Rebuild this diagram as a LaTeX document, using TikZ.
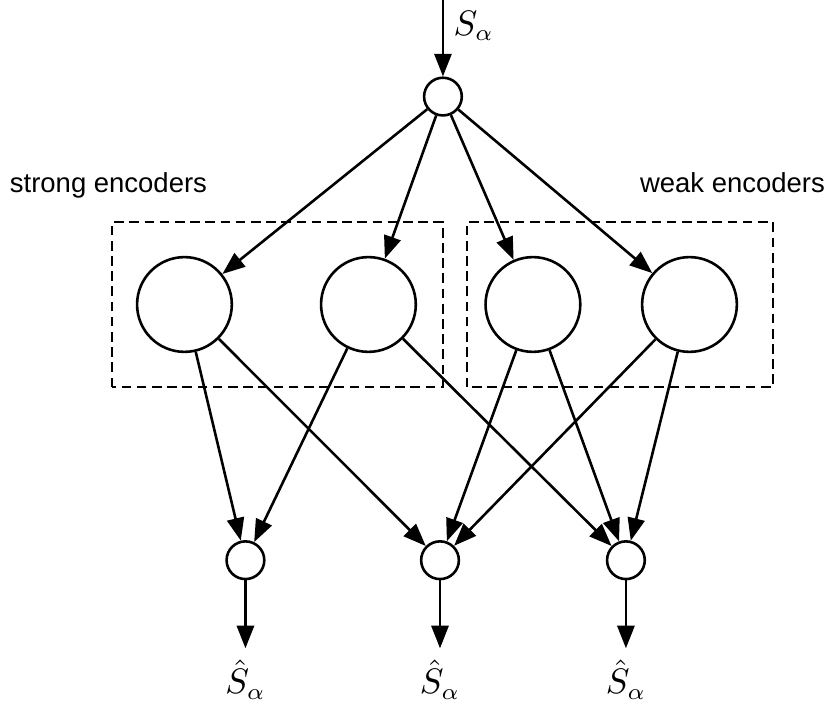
\documentclass[tikz,border=0pt]{standalone}
\usepackage{amsmath}
\usepackage{fontspec}
\newfontfamily\grpfont{Liberation Sans}
\usetikzlibrary{arrows.meta}

\begin{document}
\begin{tikzpicture}[>={Triangle[length=7pt,width=5.3pt]}, line width=0.8pt,
unit/.style={draw, circle, minimum size=0.41cm, inner sep=0pt},
enc/.style={draw, circle, minimum size=1.03cm, inner sep=0pt},
grp/.style={draw, line width=0.7pt, dash pattern=on 3pt off 1.7pt},
grplbl/.style={font=\grpfont\fontsize{8.5}{10}\selectfont, anchor=base},
sig/.style={font=\fontsize{10.5}{12}\selectfont}]
\useasboundingbox (0,0) rectangle (8.99,7.71);
% input
\coordinate (in) at (4.815,7.71);
\node[unit] (top) at (4.815,6.66) {};
\node[sig] (sin) at (5.15,7.43) {$S_\alpha$};
\draw[->] (in) -- (top);
% encoders
\node[enc] (e1) at (2.005,4.40) {};
\node[enc] (e2) at (4.005,4.40) {};
\node[enc] (e3) at (5.793,4.40) {};
\node[enc] (e4) at (7.495,4.40) {};
\draw[grp] (1.217,3.50) rectangle (4.815,5.293);
\draw[grp] (5.076,3.50) rectangle (8.402,5.293);
\node[grplbl] (strong) at (1.179,5.62) {strong encoders};
\node[grplbl] (weak) at (7.962,5.62) {weak encoders};
\draw[->] (top) -- (e1);
\draw[->] (top) -- (e2);
\draw[->] (top) -- (e3);
\draw[->] (top) -- (e4);
% decoders
\node[unit] (b1) at (2.668,1.62) {};
\node[unit] (b2) at (4.783,1.62) {};
\node[unit] (b3) at (6.804,1.62) {};
\draw[->] (e1) -- (b1);
\draw[->] (e1) -- (b2);
\draw[->] (e2) -- (b1);
\draw[->] (e2) -- (b3);
\draw[->] (e3) -- (b2);
\draw[->] (e3) -- (b3);
\draw[->] (e4) -- (b2);
\draw[->] (e4) -- (b3);
% outputs
\node[sig] (o1) at (2.668,0.32) {$\hat{S}_\alpha$};
\node[sig] (o2) at (4.783,0.32) {$\hat{S}_\alpha$};
\node[sig] (o3) at (6.804,0.32) {$\hat{S}_\alpha$};
\draw[->] (b1) -- (o1);
\draw[->] (b2) -- (o2);
\draw[->] (b3) -- (o3);
\end{tikzpicture}
\end{document}
